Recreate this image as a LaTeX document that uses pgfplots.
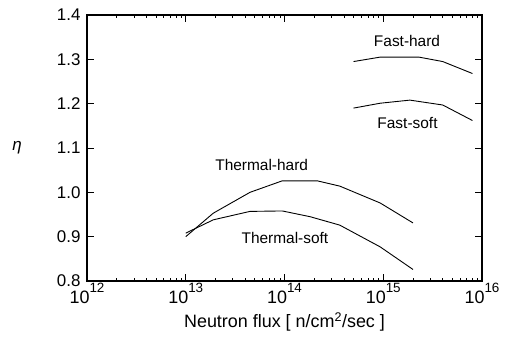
\documentclass[border=0pt]{standalone}
\usepackage{fontspec}
\setmainfont{Liberation Sans}
\usepackage{pgfplots}
\pgfplotsset{compat=1.18}
\newcommand{\pw}[1]{10\raisebox{0.58em}{\fontsize{13.5}{13.5}\selectfont #1}}
\begin{document}
\begin{tikzpicture}
\useasboundingbox (-87bp,-57bp) rectangle (418bp,281bp);
\begin{axis}[
 xmode=log, scale only axis, width=395bp, height=266bp,
 xmin=1e12, xmax=1e16, ymin=0.8, ymax=1.4,
 xtick={1e12,1e13,1e14,1e15,1e16},
 xticklabels={\pw{12},\pw{13},\pw{14},\pw{15},\pw{16}},
 minor xtick={2e12,3e12,4e12,5e12,6e12,7e12,8e12,9e12,
   2e13,3e13,4e13,5e13,6e13,7e13,8e13,9e13,
   2e14,3e14,4e14,5e14,6e14,7e14,8e14,9e14,
   2e15,3e15,4e15,5e15,6e15,7e15,8e15,9e15},
 ytick={0.8,0.9,1.0,1.1,1.2,1.3,1.4},
 yticklabels={0.8,0.9,1.0,1.1,1.2,1.3,1.4},
 tick align=inside, major tick length=7bp, minor tick length=3.5bp,
 axis line style={line width=1.2bp},
 every tick/.style={line width=0.9bp, black},
 yticklabel style={font=\fontsize{17}{17}\selectfont, xshift=-3bp},
 xticklabel style={font=\fontsize{18}{18}\selectfont, yshift=1bp},
 xlabel={Neutron flux [ n/cm\textsuperscript{2}/sec ]},
 xlabel style={font=\fontsize{18}{18}\selectfont, yshift=-2bp},
 ylabel={\textit{η}},
 ylabel style={rotate=-90, at={(axis description cs:-0.177,0.5)}, anchor=center, font=\fontsize{17}{17}\selectfont},
 clip=false,
]
\addplot[black, line width=0.9bp, no markers] coordinates {(1e13,0.900) (1.9e13,0.953) (4.47e13,1.000) (9.5e13,1.026) (2.14e14,1.026) (3.63e14,1.014) (9.3e14,0.976) (2e15,0.931)};
\addplot[black, line width=0.9bp, no markers] coordinates {(1e13,0.908) (1.9e13,0.938) (4.47e13,0.957) (9.5e13,0.958) (1.82e14,0.945) (3.63e14,0.926) (9.3e14,0.877) (2e15,0.826)};
\addplot[black, line width=0.9bp, no markers] coordinates {(5e14,1.295) (9.3e14,1.305) (2.3e15,1.305) (4e15,1.295) (8e15,1.268)};
\addplot[black, line width=0.9bp, no markers] coordinates {(5e14,1.190) (9.3e14,1.201) (1.86e15,1.208) (4e15,1.197) (8e15,1.162)};
\node[font=\fontsize{15.5}{15.5}\selectfont] at (axis cs:1.74e15,1.342) {Fast-hard};
\node[font=\fontsize{15.5}{15.5}\selectfont] at (axis cs:1.76e15,1.157) {Fast-soft};
\node[font=\fontsize{15.5}{15.5}\selectfont] at (axis cs:5.87e13,1.062) {Thermal-hard};
\node[font=\fontsize{15.5}{15.5}\selectfont] at (axis cs:1.01e14,0.896) {Thermal-soft};
\end{axis}
\end{tikzpicture}
\end{document}
